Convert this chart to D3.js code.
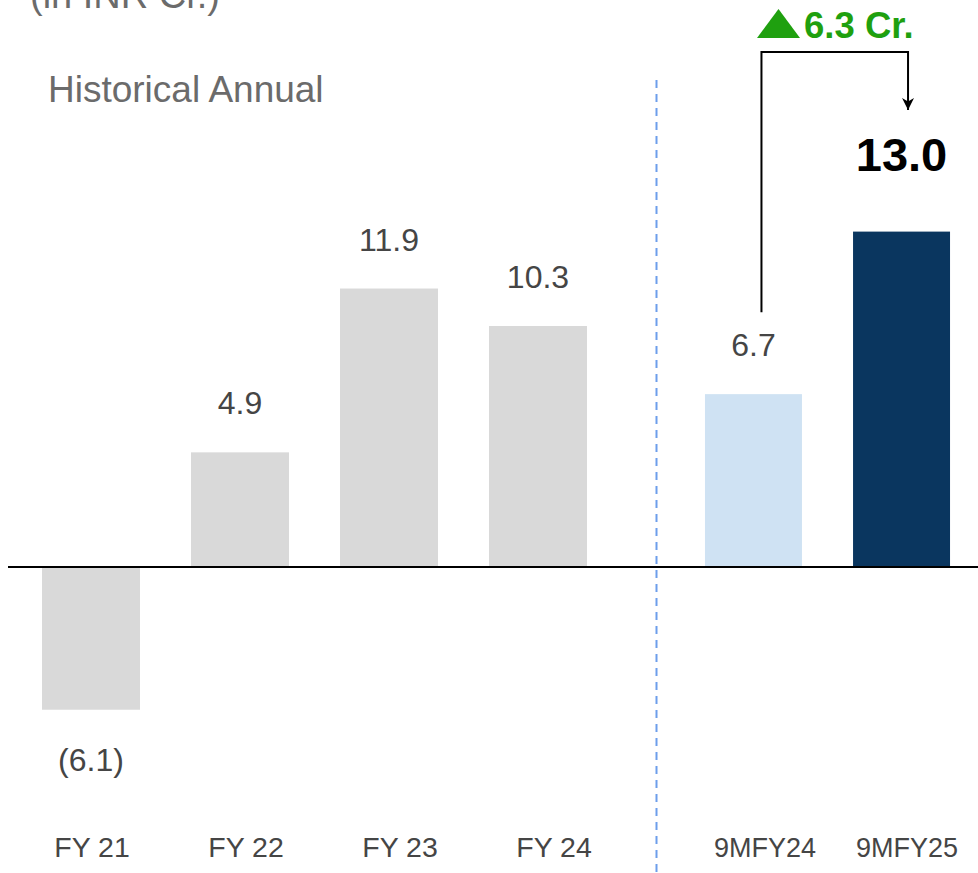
<!DOCTYPE html>
<html>
<head>
<meta charset="utf-8">
<script src="https://cdn.jsdelivr.net/npm/d3@7"></script>
<style>
  html, body { margin: 0; padding: 0; background: #fff; }
  svg { display: block; font-family: Arial, "Liberation Sans", sans-serif; }
</style>
</head>
<body>
<svg id="chart" width="978" height="873"></svg>
<script>
// ---- data ----
const histCategories = ["FY 21", "FY 22", "FY 23", "FY 24"];
const histValues = [-6.1, 4.9, 11.9, 10.3];
const histLabels = ["(6.1)", "4.9", "11.9", "10.3"];

const ytdCategories = ["9MFY24", "9MFY25"];
const ytdValues = [6.7, 13.0];
const ytdLabels = ["6.7", "13.0"];

const growthLabel = "6.3 Cr.";
const unitTitle = "(in INR Cr.)";
const sectionTitle = "Historical Annual";

// ---- setup ----
const W = 978, H = 873;
const svg = d3.select("#chart");
const zeroY = 567;

const xL = d3.scaleBand().domain(histCategories).range([16.5, 612.5]).paddingInner(0.342).paddingOuter(0.171);
const xR = d3.scaleBand().domain(ytdCategories).range([679.5, 975.5]).paddingInner(0.345).paddingOuter(0.172);
const xLabL = d3.scalePoint().domain(histCategories).range([92, 554]);
const xLabR = d3.scalePoint().domain(ytdCategories).range([765, 907]);

const yL = d3.scaleLinear().domain([0, 10]).range([zeroY, zeroY - 234]);
const yR = d3.scaleLinear().domain([0, 10]).range([zeroY, zeroY - 258]);

const histColor = "#d9d9d9";
const ytdColors = ["#cfe2f3", "#0a365f"];
const textColor = "#454545";

// titles
svg.append("text").attr("x", 30).attr("y", 8).attr("font-size", 38).attr("fill", "#6b6b6b").text(unitTitle);
svg.append("text").attr("x", 48).attr("y", 102).attr("font-size", 37).attr("fill", "#6b6b6b").text(sectionTitle);

// divider
svg.append("line").attr("x1", 656.5).attr("x2", 656.5).attr("y1", 80).attr("y2", H)
  .attr("stroke", "#6d9eeb").attr("stroke-width", 2).attr("stroke-dasharray", "8,6");

// historical bars
svg.append("g").selectAll("rect").data(histValues).join("rect")
  .attr("x", (d, i) => xL(histCategories[i]))
  .attr("width", xL.bandwidth())
  .attr("y", d => Math.min(yL(d), yL(0)))
  .attr("height", d => Math.abs(yL(d) - yL(0)))
  .attr("fill", histColor);

// ytd bars
svg.append("g").selectAll("rect").data(ytdValues).join("rect")
  .attr("x", (d, i) => xR(ytdCategories[i]))
  .attr("width", xR.bandwidth())
  .attr("y", d => yR(d))
  .attr("height", d => yR(0) - yR(d))
  .attr("fill", (d, i) => ytdColors[i]);

// baseline
svg.append("line").attr("x1", 8).attr("x2", W).attr("y1", zeroY).attr("y2", zeroY)
  .attr("stroke", "#000").attr("stroke-width", 2);

// value labels
svg.append("g").selectAll("text").data(histValues).join("text")
  .attr("x", (d, i) => xL(histCategories[i]) + xL.bandwidth() / 2)
  .attr("y", d => d < 0 ? yL(d) + 61 : yL(d) - 38)
  .attr("text-anchor", "middle").attr("font-size", 32).attr("fill", textColor)
  .text((d, i) => histLabels[i]);

svg.append("g").selectAll("text").data(ytdValues).join("text")
  .attr("x", (d, i) => xR(ytdCategories[i]) + xR.bandwidth() / 2)
  .attr("y", (d, i) => i === 1 ? yR(d) - 61 : yR(d) - 38)
  .attr("text-anchor", "middle")
  .attr("font-size", (d, i) => i === 1 ? 47 : 32)
  .attr("font-weight", (d, i) => i === 1 ? "bold" : "normal")
  .attr("fill", (d, i) => i === 1 ? "#000" : textColor)
  .text((d, i) => ytdLabels[i]);

// category labels
svg.append("g").selectAll("text").data(histCategories).join("text")
  .attr("x", d => xLabL(d)).attr("y", 857)
  .attr("text-anchor", "middle").attr("font-size", 28.5).attr("fill", textColor).text(d => d);
svg.append("g").selectAll("text").data(ytdCategories).join("text")
  .attr("x", d => xLabR(d)).attr("y", 857)
  .attr("text-anchor", "middle").attr("font-size", 27).attr("fill", textColor).text(d => d);

// growth bracket
const bx1 = xR(ytdCategories[0]) + xR.bandwidth() / 2 + 8;
const bx2 = xR(ytdCategories[1]) + xR.bandwidth() / 2 + 6.5;
const by = 52;
svg.append("defs").append("marker").attr("id", "arr")
  .attr("viewBox", "0 0 10 10").attr("refX", 10).attr("refY", 5)
  .attr("markerWidth", 6).attr("markerHeight", 6).attr("orient", "auto")
  .append("path").attr("d", "M0,0 L10,5 L0,10 L3,5 Z").attr("fill", "#000");
svg.append("path")
  .attr("d", `M${bx1},${yR(ytdValues[0]) - 82} L${bx1},${by} L${bx2},${by} L${bx2},110`)
  .attr("fill", "none").attr("stroke", "#000").attr("stroke-width", 2)
  .attr("marker-end", "url(#arr)");

// green triangle + label
const gx = 757;
svg.append("path").attr("d", `M${gx},38 L${gx + 43},38 L${gx + 21.5},9 Z`).attr("fill", "#1fa00f");
svg.append("text").attr("x", gx + 47).attr("y", 38).attr("font-size", 36.5).attr("font-weight", "bold")
  .attr("fill", "#1fa00f").text(growthLabel);
</script>
</body>
</html>
